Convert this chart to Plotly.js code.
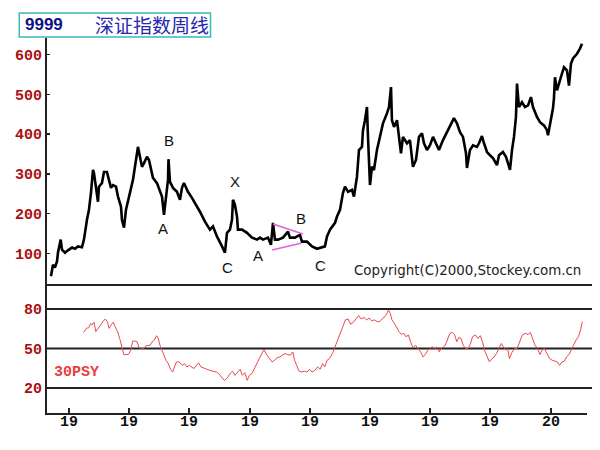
<!DOCTYPE html>
<html>
<head>
<meta charset="utf-8">
<script src="https://cdn.plot.ly/plotly-3.0.1.min.js"></script>
<style>html,body{margin:0;padding:0;background:#fff;}#chart{width:600px;height:450px;}</style>
</head>
<body>
<div id="chart"></div>
<script>
// Weekly Shenzhen composite index (approximate, decimal years)
const priceYears = [1991.701,1991.734,1991.767,1991.801,1991.817,1991.862,1991.884,1991.934,1991.983,1992.050,1992.100,1992.150,1992.216,1992.249,1992.299,1992.332,1992.365,1992.399,1992.415,1992.465,1992.482,1992.498,1992.548,1992.581,1992.631,1992.664,1992.698,1992.731,1992.781,1992.814,1992.864,1992.880,1992.914,1992.947,1992.980,1993.030,1993.063,1993.096,1993.130,1993.146,1993.179,1993.213,1993.246,1993.296,1993.329,1993.362,1993.395,1993.462,1993.495,1993.545,1993.578,1993.611,1993.645,1993.653,1993.678,1993.728,1993.794,1993.844,1993.877,1993.910,1993.977,1994.043,1994.093,1994.176,1994.259,1994.342,1994.392,1994.458,1994.542,1994.591,1994.625,1994.674,1994.708,1994.724,1994.757,1994.791,1994.807,1994.874,1994.957,1995.040,1995.123,1995.173,1995.223,1995.306,1995.355,1995.389,1995.422,1995.472,1995.555,1995.638,1995.671,1995.754,1995.837,1995.870,1995.953,1996.037,1996.120,1996.203,1996.252,1996.286,1996.336,1996.419,1996.452,1996.502,1996.551,1996.585,1996.635,1996.701,1996.734,1996.784,1996.817,1996.867,1996.884,1996.917,1996.950,1996.967,1996.983,1997.000,1997.033,1997.066,1997.116,1997.166,1997.216,1997.282,1997.316,1997.349,1997.365,1997.399,1997.449,1997.482,1997.515,1997.548,1997.615,1997.664,1997.714,1997.764,1997.814,1997.864,1997.897,1997.947,1997.997,1998.047,1998.096,1998.146,1998.213,1998.279,1998.346,1998.395,1998.445,1998.495,1998.545,1998.595,1998.611,1998.661,1998.711,1998.777,1998.811,1998.860,1998.894,1998.944,1998.993,1999.043,1999.110,1999.143,1999.209,1999.259,1999.292,1999.326,1999.359,1999.392,1999.425,1999.442,1999.475,1999.525,1999.575,1999.625,1999.674,1999.708,1999.774,1999.824,1999.890,1999.940,1999.957,2000.007,2000.040,2000.056,2000.073,2000.106,2000.140,2000.189,2000.223,2000.272,2000.306,2000.339,2000.372,2000.439,2000.488,2000.522];
const priceValues = [43,72,65,80,102,135,110,102,108,115,112,118,116,135,185,210,252,310,302,243,230,268,277,305,305,285,265,272,268,243,218,185,165,210,230,260,285,318,352,368,343,318,327,343,335,310,290,277,265,243,197,243,285,337,280,265,255,235,265,277,255,240,227,205,180,160,168,143,118,102,152,160,185,235,222,193,160,160,152,140,135,140,135,140,122,177,135,135,140,155,140,140,147,130,130,118,112,115,118,143,160,177,193,210,252,268,255,260,243,293,360,368,410,435,468,393,327,272,318,310,360,393,427,452,468,518,435,418,435,393,352,393,377,385,318,335,393,402,377,360,372,393,377,360,385,405,422,440,427,405,393,352,315,360,372,368,377,395,377,355,347,340,322,347,355,343,327,310,360,393,443,527,468,480,468,472,493,468,443,430,422,410,397,435,465,490,543,510,530,552,568,560,522,577,590,602,615,627];

// 30-week PSY indicator
const psyYears = [1992.242,1992.288,1992.329,1992.358,1992.387,1992.416,1992.446,1992.486,1992.533,1992.574,1992.603,1992.638,1992.667,1992.708,1992.737,1992.766,1992.807,1992.842,1992.882,1992.911,1992.952,1992.987,1993.028,1993.057,1993.104,1993.133,1993.162,1993.203,1993.243,1993.278,1993.319,1993.348,1993.383,1993.418,1993.453,1993.482,1993.511,1993.540,1993.581,1993.610,1993.651,1993.686,1993.721,1993.756,1993.785,1993.825,1993.860,1993.890,1993.919,1993.959,1994.000,1994.035,1994.076,1994.117,1994.152,1994.192,1994.233,1994.280,1994.338,1994.396,1994.454,1994.513,1994.553,1994.588,1994.629,1994.676,1994.716,1994.757,1994.804,1994.844,1994.879,1994.920,1994.961,1994.996,1995.037,1995.077,1995.112,1995.153,1995.200,1995.240,1995.281,1995.328,1995.374,1995.415,1995.456,1995.502,1995.549,1995.590,1995.630,1995.677,1995.718,1995.747,1995.782,1995.823,1995.863,1995.910,1995.956,1995.997,1996.038,1996.085,1996.131,1996.172,1996.213,1996.248,1996.288,1996.329,1996.376,1996.422,1996.463,1996.504,1996.550,1996.591,1996.638,1996.678,1996.725,1996.766,1996.812,1996.853,1996.900,1996.946,1996.987,1997.028,1997.074,1997.121,1997.162,1997.202,1997.249,1997.284,1997.307,1997.336,1997.365,1997.406,1997.441,1997.482,1997.523,1997.563,1997.598,1997.639,1997.674,1997.715,1997.756,1997.802,1997.843,1997.878,1997.919,1997.959,1998.006,1998.035,1998.076,1998.111,1998.152,1998.181,1998.221,1998.250,1998.285,1998.326,1998.367,1998.402,1998.443,1998.472,1998.512,1998.547,1998.588,1998.629,1998.664,1998.705,1998.751,1998.792,1998.833,1998.868,1998.908,1998.949,1998.984,1999.025,1999.066,1999.101,1999.141,1999.182,1999.217,1999.258,1999.287,1999.316,1999.357,1999.403,1999.444,1999.491,1999.531,1999.578,1999.625,1999.665,1999.706,1999.741,1999.782,1999.823,1999.857,1999.898,1999.939,1999.986,2000.026,2000.073,2000.114,2000.149,2000.189,2000.230,2000.265,2000.306,2000.347,2000.382,2000.422,2000.463,2000.498,2000.527];
const psyValues = [62.2,65.3,65.8,69,68,70,62.8,65.8,68.4,71,72.4,70.4,65.3,68.4,70,66.6,62.8,57.7,50,45.4,45.4,45.4,48.7,55.6,55.6,55.1,50.5,50,50,52,52,52.5,55.1,56.4,59.7,57.7,52.5,48.7,44.9,41.1,38.5,34.2,32.1,36,39.8,39.8,38.5,37.2,38.5,36,37.2,36,34.7,37.2,39,36,35.2,34.2,33.4,32.7,32.1,29.6,27,25.8,27.6,30.9,32.7,29.6,32.1,34.2,29.6,31.6,25.8,29.6,30.9,34.7,37.2,41.1,45.4,49.5,45.4,42.3,39.8,41.1,42.9,43.6,44.9,46.2,45.4,44.9,47.4,41.1,37.2,32.7,32.1,32.7,32.1,34.2,32.1,33.4,36,34.2,38.5,36,41.1,42.3,46.2,51.3,56.4,61.5,66.6,71.7,72.4,68.4,69.9,72.4,75,72.4,73.5,71.7,73,70.9,71.7,70.4,70.4,72.4,74.2,76.8,79.3,76.8,71.7,69.1,65.8,62.8,60.7,61.5,58.9,60.2,55.1,50.5,52.5,50,47.4,43.6,45.4,48.7,50,51.3,49.5,51.3,47.4,50,51.3,52.5,56.4,61.5,62.2,60.7,55.1,58.2,57.7,52.5,50,50,53,58.9,60.2,57.7,59.7,55.1,48,43.6,39.8,42.3,43.6,46.2,50,53.8,51.3,48.7,50,42.3,46.9,50,50,55.1,60.2,61.5,60.7,62.2,56.4,52.5,50,45.4,48.7,50,46.2,42.3,41.1,40.3,39.8,37.2,39.8,40.3,43.6,45.4,50,52.5,56.4,58.9,64,70.4];

const tickYears = [1992,1993,1994,1995,1996,1997,1998,1999,2000];
const tickLabels = ['19','19','19','19','19','19','19','19','20'];
const priceTicks = [100,200,300,400,500,600];
const psyTicks = [20,50,80];
const psyLevels = [20,50,80];

// Elliott wave labels: [text, year, index value]
const waveText = ['B','A','X','C','A','B','C'];
const waveYears = [1993.661,1993.561,1994.757,1994.641,1995.140,1995.854,1996.186];
const waveValues = [385,162,282,64,96,189,69];

// Triangle trend lines: [x0, y0, x1, y1]
const trendUpper = [1995.389,174,1995.887,149];
const trendLower = [1995.372,109,1995.854,126];

const tickRed = '#aa1010';
const monoFont = 'Liberation Mono, DejaVu Sans Mono, monospace';

const traces = [
  {x: priceYears, y: priceValues, type:'scatter', mode:'lines', xaxis:'x', yaxis:'y',
   line:{color:'#000', width:2.6}, hoverinfo:'skip'},
  {x: psyYears, y: psyValues, type:'scatter', mode:'lines', xaxis:'x', yaxis:'y2',
   line:{color:'#e84a4e', width:1}, hoverinfo:'skip'}
];

const shapes = [];
psyLevels.forEach(v => shapes.push({type:'line', xref:'paper', x0:0, x1:1.0093, yref:'y2', y0:v, y1:v,
  line:{color:'#222', width:2}, layer:'below'}));
shapes.push({type:'line', xref:'paper', x0:0, x1:1.0093, yref:'paper', y0:0.3413, y1:0.3413,
  line:{color:'#222', width:2}, layer:'below'});
[trendUpper, trendLower].forEach(t => shapes.push({type:'line', xref:'x', yref:'y',
  x0:t[0], y0:t[1], x1:t[2], y1:t[3], line:{color:'#e060e0', width:1.5}}));
// title box
shapes.push({type:'rect', xref:'paper', yref:'paper', x0:-0.0514, x1:0.3028, y0:1.0027, y1:1.0667,
  line:{color:'#3cb8b8', width:1.5}, fillcolor:'rgba(0,0,0,0)'});

const annotations = waveText.map((t,i) => ({text:t, x:waveYears[i], y:waveValues[i], xref:'x', yref:'y',
  showarrow:false, font:{family:'Liberation Sans, Arial, sans-serif', size:15, color:'#111'}}));
// year tick labels, placed just under the bottom axis
tickLabels.forEach((t,i) => annotations.push({text:t, x:tickYears[i], xref:'x', y:-0.024, yref:'paper',
  xanchor:'center', yanchor:'middle', showarrow:false,
  font:{family:monoFont, size:15, color:'#111', weight:'bold'}}));
annotations.push({text:'9999', xref:'paper', yref:'paper', x:-0.044, y:1.0373, xanchor:'left', yanchor:'middle',
  showarrow:false, font:{family:'Liberation Sans, Arial, sans-serif', size:17, color:'#101088', weight:'bold'}});
annotations.push({text:'深证指数周线', xref:'paper', yref:'paper', x:0.0844, y:1.0373, xanchor:'left', yanchor:'middle',
  showarrow:false, font:{family:'Noto Sans CJK SC, sans-serif', size:19, color:'#2828b0'}});
annotations.push({text:'Copyright(C)2000,Stockey.com.cn', xref:'paper', yref:'paper', x:0.9927, y:0.3813,
  xanchor:'right', yanchor:'middle', showarrow:false,
  font:{family:'DejaVu Sans, sans-serif', size:13.4, color:'#222'}});
annotations.push({text:'30PSY', xref:'paper', yref:'paper', x:0.055, y:0.1093, xanchor:'center', yanchor:'middle',
  showarrow:false, font:{family:monoFont, size:15, color:'#e84040', weight:'bold'}});

const layout = {
  width:600, height:450,
  margin:{l:47, r:13, t:38, b:37, pad:0},
  paper_bgcolor:'#fff', plot_bgcolor:'#fff',
  showlegend:false,
  xaxis:{range:[1991.635, 2000.605], anchor:'y2', tickmode:'array', tickvals:tickYears, showticklabels:false,
    ticks:'inside', ticklen:5, tickwidth:2, tickcolor:'#222', showgrid:false, zeroline:false,
    showline:true, linewidth:2, linecolor:'#222'},
  yaxis:{domain:[0.3413,1], range:[20.9,641.5], anchor:'x', tickmode:'array', tickvals:priceTicks,
    ticks:'inside', ticklen:3, tickwidth:1.5, tickcolor:'#222', showgrid:false, zeroline:false,
    showline:true, linewidth:2, linecolor:'#222',
    tickfont:{family:monoFont, size:15, color:tickRed, weight:'bold'}},
  yaxis2:{domain:[0,0.3413], range:[1,98.2], anchor:'x', tickmode:'array', tickvals:psyTicks,
    ticks:'', showgrid:false, zeroline:false,
    showline:true, linewidth:2, linecolor:'#222',
    tickfont:{family:monoFont, size:15, color:tickRed, weight:'bold'}},
  shapes:shapes,
  annotations:annotations
};

Plotly.newPlot('chart', traces, layout, {staticPlot:true, displayModeBar:false});
</script>
</body>
</html>
